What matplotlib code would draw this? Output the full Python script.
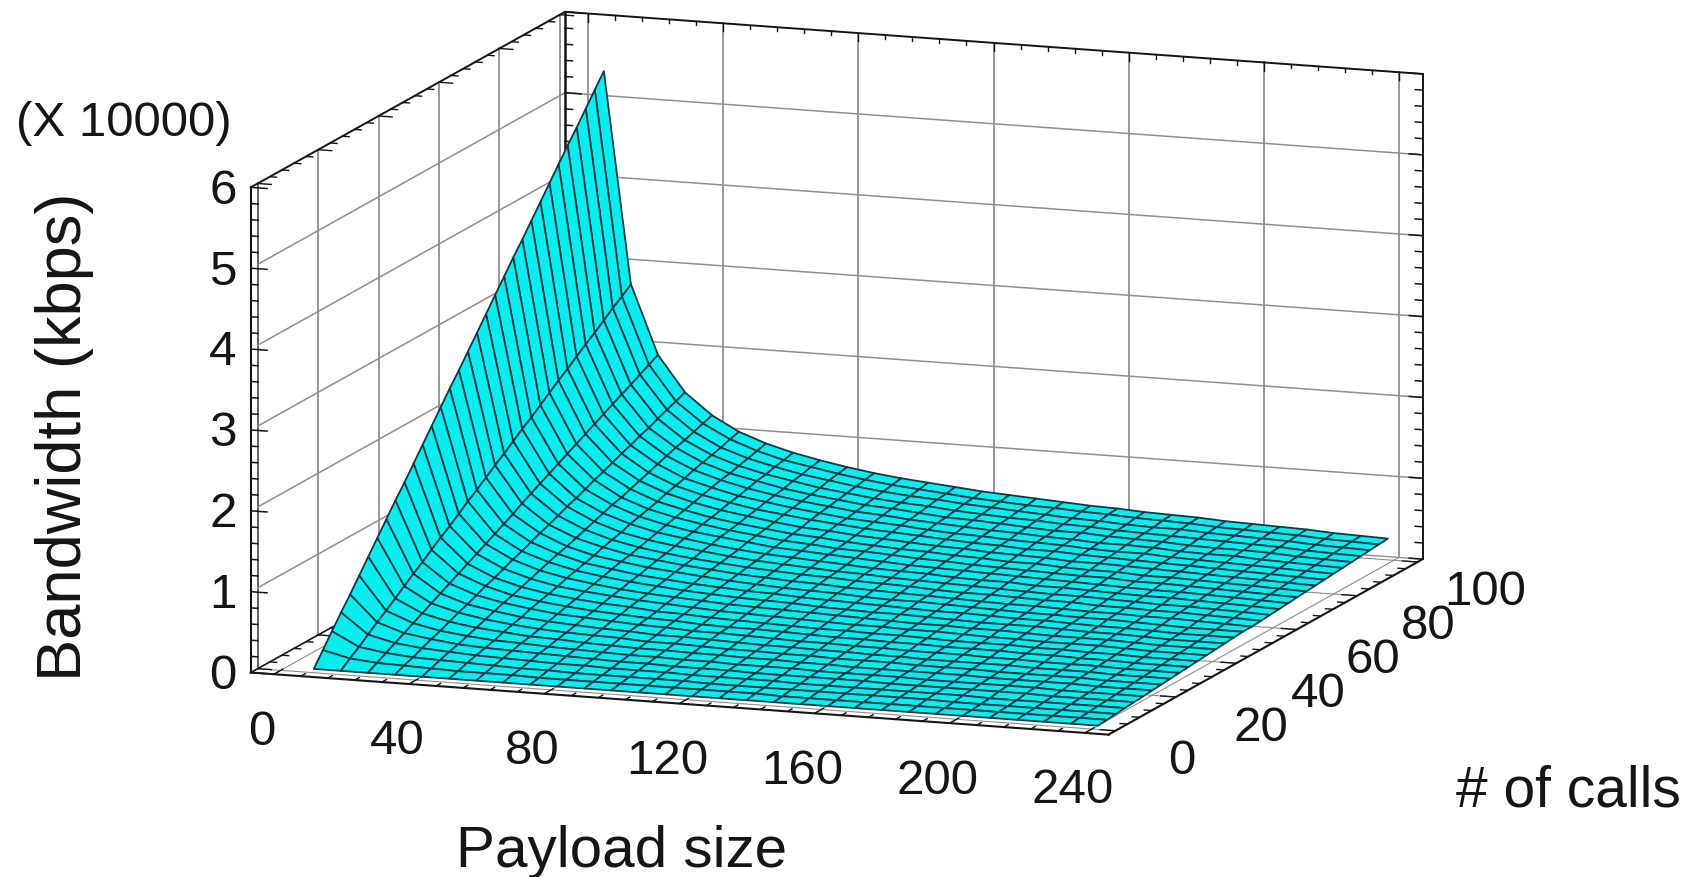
import numpy as np
import matplotlib
matplotlib.use('Agg')
import matplotlib.pyplot as plt
from mpl_toolkits.mplot3d import proj3d

plt.rcParams['font.family'] = ['Liberation Sans', 'DejaVu Sans']

payload = [8, 16, 24, 32, 40, 48, 56, 64, 72, 80, 88, 96, 104, 112, 120, 128, 136, 144, 152, 160,
           168, 176, 184, 192, 200, 208, 216, 224, 232, 240]
calls = [2, 5, 8, 11, 14, 17, 20, 23, 26, 29, 32, 35, 38, 41, 44, 47, 50, 53, 56, 59, 62, 65, 68,
         71, 74, 77, 80, 83, 86, 89, 92, 95, 98]

# bandwidth in units of 10000 kbps, one row per line of the mesh along payload
bandwidth = [
    [0.0]*30,
    [.17,.09,.06,.05,.04,.03,.03,.03,.02,.02,.02,.02,.02,.02,.02,.02,.02,.01,.01,.01,.01,.01,.01,.01,.01,.01,.01,.01,.01,.01],
    [.34,.17,.12,.09,.08,.07,.06,.05,.05,.04,.04,.04,.04,.04,.03,.03,.03,.03,.03,.03,.03,.03,.03,.02,.02,.02,.02,.02,.02,.02],
    [.51,.26,.18,.14,.12,.10,.09,.08,.07,.07,.06,.06,.06,.05,.05,.05,.05,.04,.04,.04,.04,.04,.04,.04,.03,.03,.03,.03,.03,.03],
    [.67,.35,.24,.19,.15,.13,.12,.11,.10,.09,.08,.08,.07,.07,.07,.06,.06,.06,.06,.06,.05,.05,.05,.05,.05,.05,.04,.04,.04,.04],
    [.84,.43,.30,.23,.19,.16,.15,.13,.12,.11,.10,.10,.09,.09,.08,.08,.08,.07,.07,.07,.07,.06,.06,.06,.06,.06,.05,.05,.05,.05],
    [1.01,.52,.36,.28,.23,.20,.17,.16,.14,.13,.12,.12,.11,.11,.10,.10,.09,.09,.08,.08,.08,.08,.08,.07,.07,.07,.07,.06,.06,.06],
    [1.18,.61,.42,.33,.27,.23,.20,.18,.17,.16,.14,.14,.13,.12,.12,.11,.11,.10,.10,.10,.09,.09,.09,.08,.08,.08,.08,.07,.07,.07],
    [1.35,.70,.48,.37,.31,.26,.23,.21,.19,.18,.16,.16,.15,.14,.13,.13,.12,.12,.11,.11,.10,.10,.10,.10,.09,.09,.09,.08,.08,.08],
    [1.52,.78,.54,.42,.35,.30,.26,.24,.22,.20,.19,.17,.17,.16,.15,.14,.14,.13,.13,.12,.12,.12,.11,.11,.10,.10,.10,.09,.09,.09],
    [1.68,.87,.60,.47,.38,.33,.29,.26,.24,.22,.21,.19,.18,.18,.17,.16,.15,.15,.14,.14,.13,.13,.13,.12,.12,.11,.11,.10,.10,.10],
    [1.85,.96,.66,.51,.42,.36,.32,.29,.27,.24,.23,.21,.20,.19,.18,.17,.17,.16,.16,.15,.14,.14,.14,.13,.13,.12,.12,.11,.11,.11],
    [2.02,1.04,.72,.56,.46,.39,.35,.32,.29,.27,.25,.23,.22,.21,.20,.19,.18,.18,.17,.17,.16,.15,.15,.14,.14,.14,.13,.12,.12,.12],
    [2.19,1.13,.78,.61,.50,.43,.38,.34,.31,.29,.27,.25,.24,.23,.22,.21,.20,.19,.18,.18,.17,.17,.16,.15,.15,.15,.14,.13,.13,.13],
    [2.36,1.22,.84,.65,.54,.46,.41,.37,.34,.31,.29,.27,.26,.25,.23,.22,.21,.21,.20,.19,.18,.18,.18,.17,.16,.16,.15,.14,.14,.14],
    [2.53,1.30,.90,.70,.58,.49,.44,.39,.36,.33,.31,.29,.28,.26,.25,.24,.23,.22,.21,.21,.20,.19,.19,.18,.17,.17,.16,.15,.15,.15],
    [2.69,1.39,.96,.75,.61,.52,.47,.42,.39,.36,.33,.31,.29,.28,.27,.25,.24,.24,.23,.22,.21,.20,.20,.19,.19,.18,.17,.16,.16,.16],
    [2.86,1.48,1.03,.79,.65,.56,.49,.45,.41,.38,.35,.33,.31,.30,.28,.27,.26,.25,.24,.23,.22,.22,.21,.20,.20,.19,.19,.18,.17,.16],
    [3.03,1.56,1.09,.84,.69,.59,.52,.47,.43,.40,.37,.35,.33,.32,.30,.29,.28,.26,.25,.25,.24,.23,.23,.21,.21,.20,.20,.19,.18,.17],
    [3.20,1.65,1.15,.89,.73,.62,.55,.50,.46,.42,.39,.37,.35,.33,.32,.30,.29,.28,.27,.26,.25,.24,.24,.23,.22,.21,.21,.20,.19,.18],
    [3.37,1.74,1.21,.93,.77,.66,.58,.53,.48,.44,.41,.39,.37,.35,.33,.32,.31,.29,.28,.28,.26,.26,.25,.24,.23,.23,.22,.21,.20,.19],
    [3.54,1.82,1.27,.98,.81,.69,.61,.55,.51,.47,.43,.41,.39,.37,.35,.33,.32,.31,.30,.29,.28,.27,.26,.25,.24,.24,.23,.22,.21,.20],
    [3.71,1.91,1.33,1.03,.84,.72,.64,.58,.53,.49,.45,.43,.40,.39,.37,.35,.34,.32,.31,.30,.29,.28,.28,.26,.26,.25,.24,.23,.22,.21],
    [3.87,2.00,1.39,1.07,.88,.75,.67,.60,.55,.51,.47,.45,.42,.40,.38,.37,.35,.34,.32,.32,.30,.29,.29,.27,.27,.26,.25,.24,.23,.22],
    [4.04,2.09,1.45,1.12,.92,.79,.70,.63,.58,.53,.49,.47,.44,.42,.40,.38,.37,.35,.34,.33,.31,.31,.30,.29,.28,.27,.26,.25,.24,.23],
    [4.21,2.17,1.51,1.17,.96,.82,.73,.66,.60,.56,.52,.49,.46,.44,.42,.40,.38,.37,.35,.35,.33,.32,.31,.30,.29,.28,.27,.26,.25,.24],
    [4.38,2.26,1.57,1.21,1.00,.85,.76,.68,.63,.58,.54,.50,.48,.46,.43,.41,.40,.38,.37,.36,.34,.33,.33,.31,.30,.29,.28,.27,.26,.25],
    [4.55,2.35,1.63,1.26,1.04,.89,.79,.71,.65,.60,.56,.52,.50,.47,.45,.43,.41,.40,.38,.37,.35,.35,.34,.32,.31,.31,.29,.28,.27,.26],
    [4.72,2.43,1.69,1.30,1.08,.92,.81,.74,.67,.62,.58,.54,.52,.49,.46,.45,.43,.41,.39,.39,.37,.36,.35,.33,.32,.32,.31,.29,.28,.27],
    [4.88,2.52,1.75,1.35,1.11,.95,.84,.76,.70,.64,.60,.56,.53,.51,.48,.46,.44,.43,.41,.40,.38,.37,.36,.35,.34,.33,.32,.30,.29,.28],
    [5.05,2.61,1.81,1.40,1.15,.98,.87,.79,.72,.67,.62,.58,.55,.53,.50,.48,.46,.44,.42,.41,.39,.38,.38,.36,.35,.34,.33,.31,.30,.29],
    [5.22,2.69,1.87,1.44,1.19,1.02,.90,.81,.75,.69,.64,.60,.57,.54,.51,.49,.47,.46,.44,.43,.41,.40,.39,.37,.36,.35,.34,.32,.31,.30],
    [5.39,2.78,1.93,1.49,1.23,1.05,.93,.84,.77,.71,.66,.62,.59,.56,.53,.51,.49,.47,.45,.44,.42,.41,.40,.38,.37,.36,.35,.33,.32,.31],
]

x_ticks = [0, 40, 80, 120, 160, 200, 240]
y_ticks = [0, 20, 40, 60, 80, 100]
z_ticks = [0, 1, 2, 3, 4, 5, 6]
x0, x1 = -6.8, 247
y0, y1 = -2.3, 101.7
z0, z1 = 0, 6

W, H = 1689, 878
fig = plt.figure(figsize=(W / 100, H / 100), dpi=100, facecolor='white')
S = 1351
ax = fig.add_axes([143 / W, -190 / H, S / W, S / H], projection='3d', computed_zorder=False)
ax.set_proj_type('ortho')
ax.view_init(elev=11.6, azim=-70.2)
ax.set_box_aspect((911, 927, 495))
ax.set_xlim(x0, x1)
ax.set_ylim(y0, y1)
ax.set_zlim(z0, z1)
ax.set_axis_off()

GRAY = '#8f8f8f'
DARK = '#151515'


def seg(p, q, color=DARK, lw=1.2, z=1):
    ax.plot([p[0], q[0]], [p[1], q[1]], [p[2], q[2]], color=color, lw=lw, zorder=z, clip_on=False)


def label(x, y, z, s):
    # 2D text at the projected spot of a 3D point
    u, v, _ = proj3d.proj_transform(x, y, z, ax.get_proj())
    ax.text2D(u, v, s, transform=ax.transData, fontsize=35.5, ha='center', va='center', color=DARK)


# grid on the walls and the floor
for t in x_ticks:
    seg((t, y1, z0), (t, y1, z1), GRAY, 1.3)
    seg((t, y0, z0), (t, y1, z0), GRAY, 0.8)
for t in y_ticks:
    seg((x0, t, z0), (x0, t, z1), GRAY if t else '#555555', 1.3)
    seg((x0, t, z0), (x1, t, z0), GRAY, 0.8)
for t in z_ticks[1:-1]:
    seg((x0, 0, t), (x0, y1, t), GRAY, 1.1)
    seg((x0, y1, t), (x1, y1, t), GRAY, 1.1)

# frame behind the surface
seg((x0, y1, z0), (x0, y1, z1), lw=1.8)
seg((x1, y1, z0), (x1, y1, z1), lw=1.4)
seg((x0, y0, z0), (x0, y1, z0))
seg((x0, y1, z0), (x1, y1, z0), GRAY, 1.0)
seg((x0, y0, z1), (x0, y1, z1), lw=1.4)
seg((x0, y1, z1), (x1, y1, z1), lw=1.4)

# z rulers, ticks every 0.2
for z in np.arange(0, 6.01, 0.2):
    major = abs(z - round(z)) < 1e-6
    seg((x0, y0, z), (x0 + (4.8 if major else 2.2), y0, z), lw=1.1, z=1)
    seg((x0, y1, z), (x0 + (4.8 if major else 2.2), y1, z), lw=1.1, z=1)
    seg((x1, y1, z), (x1 - (4.0 if major else 2.2), y1, z), lw=1.1, z=1)

# ticks along the top edges and the floor edges
for t in np.arange(0, 241, 8):
    major = t % 40 == 0
    seg((t, y1, z1), (t, y1, z1 - (0.1 if major else 0.05)), lw=1.0)
    seg((t, y0, z0), (t, y0 + (3 if major else 1.5), z0), lw=1.0, z=3)
for t in np.arange(0, 101, 4):
    major = t % 20 == 0
    seg((x0, t, z1), (x0 + (4.0 if major else 2.0), t, z1), lw=1.0)
    seg((x0, t, z0), (x0 + (4.0 if major else 2.0), t, z0), lw=1.0)
    seg((x1, t, z0), (x1 - (4.5 if major else 2.2), t, z0), lw=1.0, z=3)

X, Y = np.meshgrid(payload, calls)
Z = np.array(bandwidth)
surf = ax.plot_surface(X, Y, Z, rstride=1, cstride=1, color='#08eeee', edgecolor='#083c4a',
                       linewidth=1.3, shade=False, zorder=2)
surf.set_clip_on(False)

# frame in front of the surface
seg((x0, y0, z0), (x1, y0, z0), lw=1.5, z=3)
seg((x1, y0, z0), (x1, y1, z0), lw=1.5, z=3)
seg((x0, y0, z0), (x0, y0, z1), lw=1.5, z=1)

# tick labels
for t in x_ticks:
    label(t + 0.8, -7.2, -0.6, str(t))
y_nudge = [-1.8, 3.6, 2.7, 0.9, -0.6, -1.4]
for t, n in zip(y_ticks, y_nudge):
    label(x1 + 23.6 + n, t - 2.3, -0.25, str(t))
for t in z_ticks:
    label(x0 - 8.2, y0, t - 0.06, str(t))

fig.text(124 / W, 1 - 123 / H, '(X 10000)', fontsize=35.5, ha='center', va='center', color=DARK)
fig.text(65 / W, 1 - 437 / H, 'Bandwidth (kbps)', fontsize=45.5, rotation=90, ha='center', va='center', color=DARK)
fig.text(622 / W, 1 - 852 / H, 'Payload size', fontsize=42, ha='center', va='center', color=DARK)
fig.text(1568 / W, 1 - 792 / H, '# of calls', fontsize=41, ha='center', va='center', color=DARK)

fig.savefig('out.png', dpi=100)
